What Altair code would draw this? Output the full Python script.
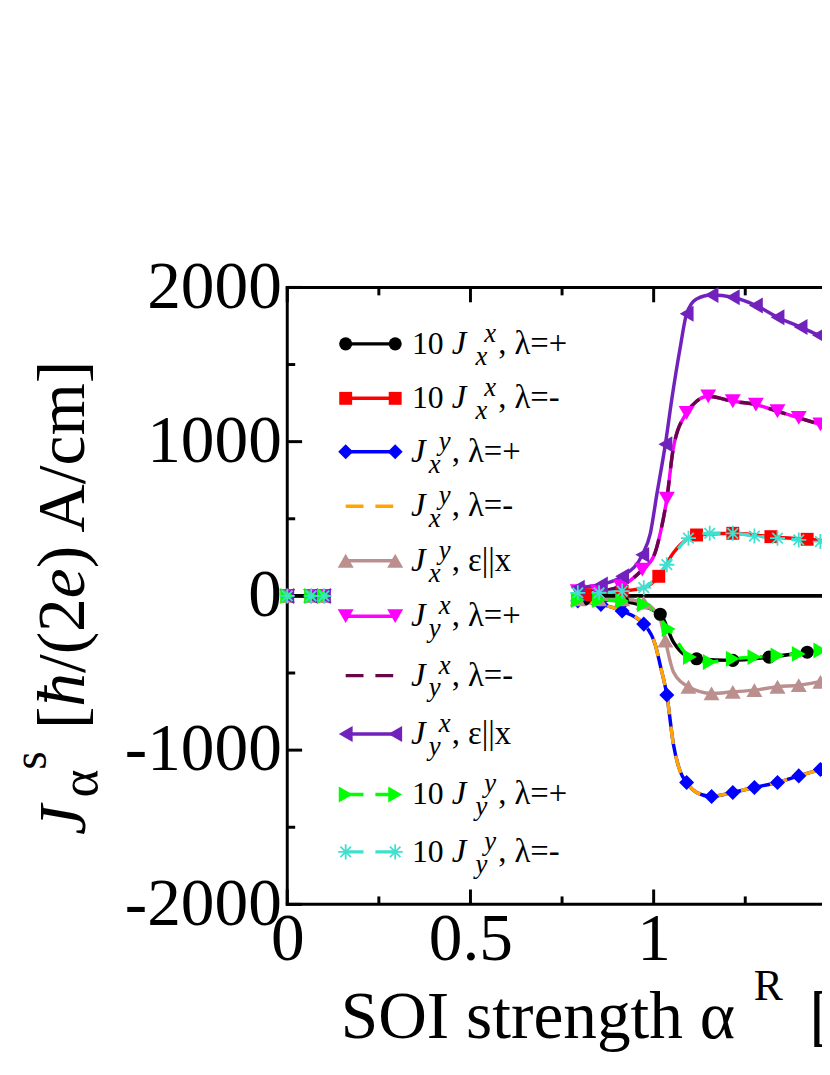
import altair as alt
import pandas as pd

# ---------------- data ----------------
LEFT_X = [0.0, 0.065, 0.1]
LEFT_Y = [0, 0, 0]

BLACK_X = [0.811, 0.915, 1.018, 1.054, 1.081, 1.117, 1.216, 1.315, 1.419, 1.52]
BLACK_Y = [-22, -35, -119, -300, -376, -408, -418, -397, -365, -340]
BLACK_M = [1, 1, 1, 0, 0, 1, 1, 1, 1, 1]

RED_X = [0.814, 0.914, 0.973, 1.014, 1.054, 1.095, 1.117, 1.216, 1.320, 1.419, 1.52]
RED_Y = [8, 30, 53, 127, 280, 374, 395, 406, 384, 367, 345]
RED_M = [1, 1, 0, 1, 0, 0, 1, 1, 1, 1, 1]

BLUE_X = [0.793, 0.856, 0.914, 0.973, 1.005, 1.018, 1.036, 1.054, 1.072, 1.090,
          1.117, 1.158, 1.216, 1.275, 1.338, 1.396, 1.455, 1.52]
BLUE_Y = [-33, -55, -98, -183, -322, -450, -643, -964, -1135, -1210,
          -1274, -1300, -1274, -1242, -1210, -1167, -1125, -1080]
BLUE_M = [1, 1, 1, 1, 0, 0, 1, 0, 0, 1, 0, 1, 1, 1, 1, 1, 1, 1]

ORANGE_X = [0.793, 0.856, 0.914, 0.973, 1.005, 1.018, 1.036, 1.054, 1.072, 1.090,
            1.117, 1.158, 1.216, 1.275, 1.338, 1.396, 1.455, 1.52]
ORANGE_Y = [-33, -55, -98, -183, -322, -450, -643, -964, -1135, -1210,
            -1274, -1300, -1274, -1242, -1210, -1167, -1125, -1080]

BROWN_X = [0.793, 0.851, 0.914, 0.973, 1.0, 1.018, 1.032, 1.054, 1.095, 1.158,
           1.216, 1.275, 1.338, 1.396, 1.455, 1.52]
BROWN_Y = [-22, -22, -22, -44, -87, -151, -290, -493, -589, -632,
           -622, -611, -589, -579, -557, -535]
BROWN_M = [1, 1, 1, 1, 0, 0, 1, 0, 1, 1, 1, 1, 1, 1, 1, 1]

MAGENTA_X = [0.793, 0.847, 0.910, 0.969, 1.0, 1.018, 1.036, 1.054, 1.090, 1.117,
             1.149, 1.216, 1.279, 1.338, 1.396, 1.455, 1.52]
MAGENTA_Y = [30, 31, 63, 170, 256, 406, 630, 962, 1187, 1262,
             1294, 1262, 1240, 1197, 1154, 1112, 1070]
MAGENTA_M = [1, 1, 1, 1, 0, 0, 1, 0, 1, 0, 1, 1, 1, 1, 1, 1, 1]

MAROON_X = [0.793, 0.847, 0.910, 0.969, 1.0, 1.018, 1.036, 1.054, 1.090, 1.117,
            1.149, 1.216, 1.279, 1.338, 1.396, 1.455, 1.52]
MAROON_Y = [30, 31, 63, 170, 256, 406, 630, 962, 1187, 1262,
            1294, 1262, 1240, 1197, 1154, 1112, 1070]

PURPLE_X = [0.793, 0.856, 0.914, 0.969, 0.991, 1.009, 1.032, 1.050, 1.072, 1.090,
            1.117, 1.158, 1.216, 1.279, 1.338, 1.401, 1.451, 1.52]
PURPLE_Y = [53, 74, 127, 266, 406, 663, 984, 1283, 1604, 1829,
            1925, 1951, 1936, 1883, 1807, 1743, 1690, 1630]
PURPLE_M = [1, 1, 1, 1, 0, 0, 1, 0, 0, 1, 0, 1, 1, 1, 1, 1, 1, 1]

GREEN_X = [0.793, 0.851, 0.914, 0.973, 1.041, 1.099, 1.153, 1.216, 1.275, 1.338,
           1.396, 1.455, 1.52]
GREEN_Y = [-27, -27, -33, -55, -215, -397, -429, -408, -397, -386,
           -376, -354, -335]

CYAN_X = [0.793, 0.851, 0.914, 0.973, 1.036, 1.095, 1.153, 1.216, 1.275, 1.338,
          1.396, 1.455, 1.52]
CYAN_Y = [20, 20, 31, 53, 202, 374, 406, 406, 388, 374, 363, 352, 340]

ZERO_X = [0.0, 0.785]
ZERO_X2 = [0.1, 1.7]

X_MAJOR = [0, 0.5, 1, 1.5]
X_MINOR = [0.25, 0.75, 1.25]
Y_MAJOR = [-2000, -1000, 0, 1000, 2000]
Y_MINOR = [-1500, -500, 500, 1500]

LEG_PREFIX = ["10", "10", "", "", "", "", "", "", "10", "10"]
LEG_SUB = ["x", "x", "x", "x", "x", "y", "y", "y", "y", "y"]
LEG_SUP = ["x", "x", "y", "y", "y", "x", "x", "x", "y", "y"]
LEG_SUFFIX = [", λ=+", ", λ=-", ", λ=+", ", λ=-", ", ε||x",
              ", λ=+", ", λ=-", ", ε||x", ", λ=+", ", λ=-"]

Y_TITLE_PARTS = ["[", "ħ", "/(2", "e", ") A/cm]"]
X_TITLE = "SOI strength α"

# ---------------- layout / style ----------------
W, H = 540, 623
PX_PER_UNIT = 370.0
XMAX = W / PX_PER_UNIT
FONT = "Liberation Serif"
ASTER = "M-1,0L1,0M0,-1L0,1M-0.7,-0.7L0.7,0.7M-0.7,0.7L0.7,-0.7"
LW = 3.5

SERIES = [
    dict(x=BLACK_X, y=BLACK_Y, m=BLACK_M, color="#000000", shape="circle", size=175, dash=None),
    dict(x=RED_X, y=RED_Y, m=RED_M, color="#ff0000", shape="square", size=170, dash=None),
    dict(x=BLUE_X, y=BLUE_Y, m=BLUE_M, color="#0000ff", shape="diamond", size=230, dash=None),
    dict(x=ORANGE_X, y=ORANGE_Y, m=None, color="#ffa500", shape=None, size=0, dash=[18, 12]),
    dict(x=BROWN_X, y=BROWN_Y, m=BROWN_M, color="#bc8f8f", shape="triangle-up", size=260, dash=None),
    dict(x=MAGENTA_X, y=MAGENTA_Y, m=MAGENTA_M, color="#ff00ff", shape="triangle-down", size=260, dash=None),
    dict(x=MAROON_X, y=MAROON_Y, m=None, color="#67074a", shape=None, size=0, dash=[18, 12]),
    dict(x=PURPLE_X, y=PURPLE_Y, m=PURPLE_M, color="#7222bc", shape="triangle-left", size=260, dash=None),
    dict(x=GREEN_X, y=GREEN_Y, m=[1] * len(GREEN_X), color="#00ff00", shape="triangle-right", size=260, dash=[18, 12]),
    dict(x=CYAN_X, y=CYAN_Y, m=[1] * len(CYAN_X), color="#40e0d0", shape=ASTER, size=230, dash=[18, 12]),
]

xscale = alt.Scale(domain=[0, XMAX], nice=False, zero=False)
yscale = alt.Scale(domain=[-2000, 2000], nice=False, zero=False)
xaxis = alt.Axis(values=X_MAJOR, ticks=False, domain=False, grid=False, title=None,
                 labelFont=FONT, labelFontSize=68, labelColor="black", labelPadding=2,
                 labelFlush=False, labelOverlap=False, labelBound=False,
                 labelExpr="'' + datum.value")
yaxis = alt.Axis(values=Y_MAJOR, ticks=False, domain=False, grid=False, title=None,
                 labelFont=FONT, labelFontSize=68, labelColor="black", labelPadding=6,
                 labelFlush=False, labelOverlap=False, labelBound=False,
                 labelExpr="'' + datum.value")
X = alt.X("x:Q", scale=xscale, axis=xaxis)
Y = alt.Y("y:Q", scale=yscale, axis=yaxis)


def text_layer(t, x, y, size, style="normal", angle=0, align="left"):
    return alt.Chart(pd.DataFrame({"t": [t]})).mark_text(
        font=FONT, fontSize=size, fontStyle=style, angle=angle, align=align,
        baseline="alphabetic", color="black"
    ).encode(text="t:N", x=alt.value(x), y=alt.value(y))


def marker(d, s):
    if s["shape"] == ASTER:
        return alt.Chart(d).mark_point(shape=ASTER, filled=False, size=s["size"],
                                       color=s["color"], strokeWidth=1.8, opacity=1)
    return alt.Chart(d).mark_point(shape=s["shape"], filled=True, size=s["size"],
                                   color=s["color"], strokeWidth=0, opacity=1)


layers = []

# frame (left, top, bottom spines) and inward ticks
frame = pd.DataFrame({"x": [0]})
layers.append(alt.Chart(frame).mark_rule(color="black", strokeWidth=3).encode(
    x=alt.value(0), y=alt.value(-1.5), y2=alt.value(H + 1.5)))
layers.append(alt.Chart(frame).mark_rule(color="black", strokeWidth=3).encode(
    x=alt.value(-1.5), x2=alt.value(W + 5), y=alt.value(0)))
layers.append(alt.Chart(frame).mark_rule(color="black", strokeWidth=3).encode(
    x=alt.value(-1.5), x2=alt.value(W + 5), y=alt.value(H)))

for vals, ln in ((X_MAJOR, 15), (X_MINOR, 8)):
    d = pd.DataFrame({"x": vals})
    layers.append(alt.Chart(d).mark_rule(color="black", strokeWidth=3).encode(
        x=X, y=alt.value(H), y2=alt.value(H - ln)))
    layers.append(alt.Chart(d).mark_rule(color="black", strokeWidth=3).encode(
        x=X, y=alt.value(0), y2=alt.value(ln)))
for vals, ln in ((Y_MAJOR, 15), (Y_MINOR, 8)):
    d = pd.DataFrame({"y": vals})
    layers.append(alt.Chart(d).mark_rule(color="black", strokeWidth=3).encode(
        y=Y, x=alt.value(0), x2=alt.value(ln)))

# series data frames
frames = []
for s in SERIES:
    mk = s["m"] if s["m"] is not None else [0] * len(s["x"])
    lm = 1 if s["m"] is not None else 0
    rows = []
    for xv, yv in zip(LEFT_X, LEFT_Y):
        rows.append(dict(x=xv, y=yv, seg=0, m=lm))
    for xv, yv, mv in zip(s["x"], s["y"], mk):
        rows.append(dict(x=xv, y=yv, seg=1, m=mv))
    frames.append(pd.DataFrame(rows))

# series lines
for s, d in zip(SERIES, frames):
    kw = dict(interpolate="monotone", color=s["color"], strokeWidth=LW)
    if s["dash"]:
        kw["strokeDash"] = s["dash"]
    layers.append(alt.Chart(d).mark_line(**kw).encode(x=X, y=Y, detail="seg:N"))

# zero line
layers.append(alt.Chart(pd.DataFrame({"x": ZERO_X, "x2": ZERO_X2, "y": [0, 0]}))
              .mark_rule(color="black", strokeWidth=4)
              .encode(x=X, x2="x2:Q", y=Y))

# markers
for s, d in zip(SERIES, frames):
    if s["shape"] is None:
        continue
    layers.append(marker(d, s).encode(x=X, y=Y).transform_filter("datum.m == 1"))

# legend
LEG_ROW_Y = [57, 112, 166, 221, 276, 332, 392, 451, 512, 570]
for i, s in enumerate(SERIES):
    ry = LEG_ROW_Y[i]
    kw = dict(color=s["color"], strokeWidth=LW)
    if s["dash"]:
        kw["strokeDash"] = s["dash"]
    layers.append(alt.Chart(frame).mark_rule(**kw).encode(
        x=alt.value(59), x2=alt.value(109), y=alt.value(ry)))
    if s["shape"] is not None:
        for px in (59, 109):
            layers.append(marker(frame, s).encode(x=alt.value(px), y=alt.value(ry)))
    if LEG_PREFIX[i]:
        layers.append(text_layer(LEG_PREFIX[i], 126, ry + 10, 32))
        jx, sbx, spx, sfx = 166, 190, 199, 213
    else:
        jx, sbx, spx, sfx = 125, 143, 153, 166
    layers.append(text_layer("J", jx, ry + 10, 33, "italic"))
    layers.append(text_layer(LEG_SUB[i], sbx, ry + 21, 27, "italic"))
    layers.append(text_layer(LEG_SUP[i], spx, ry - 2, 27, "italic"))
    layers.append(text_layer(LEG_SUFFIX[i], sfx, ry + 10, 33))

# y-axis title (rotated, reading upwards)
base_x = 85 - 290
starts = [731, 708.4, 674.4, 598.9, 568.7]
styles = ["normal", "italic", "normal", "italic", "normal"]
for t, sy, st in zip(Y_TITLE_PARTS, starts, styles):
    layers.append(text_layer(t, base_x, sy - 285, 68, st, angle=270))
layers.append(text_layer("J", 86 - 290, 838 - 285, 68, "italic", angle=270))
layers.append(text_layer("α", 98 - 290, 800 - 285, 54, angle=270))
layers.append(text_layer("s", 46 - 290, 772 - 285, 48, angle=270))

# x-axis title
layers.append(text_layer(X_TITLE, 54, 758, 68))
layers.append(text_layer("R", 471, 720, 44))
layers.append(text_layer("[", 527, 758, 68))

chart = alt.layer(*layers).properties(
    width=W, height=H,
    padding={"left": 282, "top": 277, "right": 0, "bottom": 152},
    autosize=alt.AutoSizeParams(type="none"),
).configure_view(stroke=None)

chart.save("out.html", embed_options={"renderer": "svg", "actions": False})
